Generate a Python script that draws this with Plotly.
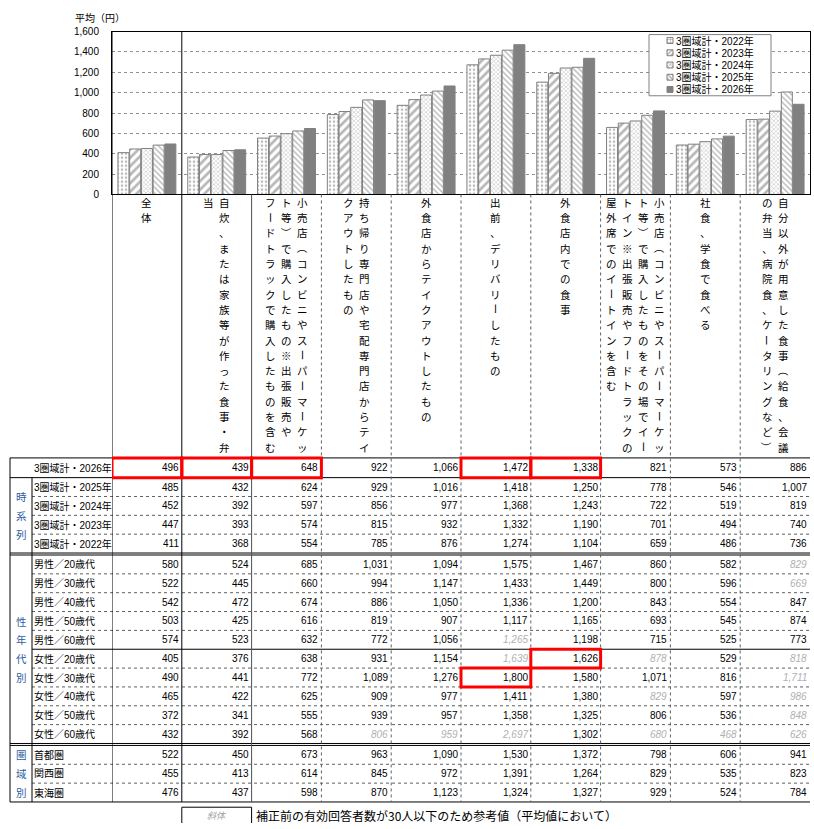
import plotly.graph_objects as go

W, H = 814, 829

# ---------------- data ----------------
categories = [
    "全体",
    "自炊、または家族等が作った食事・弁当",
    "小売店（コンビニやスーパーマーケット等）で購入したもの※出張販売やフードトラックで購入したものを含む",
    "持ち帰り専門店や宅配専門店からテイクアウトしたもの",
    "外食店からテイクアウトしたもの",
    "出前、デリバリーしたもの",
    "外食店内での食事",
    "小売店（コンビニやスーパーマーケット等）で購入したものをその場でイートイン※出張販売やフードトラックの屋外席でのイートインを含む",
    "社食、学食で食べる",
    "自分以外が用意した食事（給食、会議の弁当、病院食、ケータリングなど）",
]
# vertical label columns (right-most column first)
category_columns = [
    ["全体"],
    ["自炊、または家族等が作った食事・弁", "当"],
    ["小売店（コンビニやスーパーマーケッ", "ト等）で購入したもの※出張販売や", "フードトラックで購入したものを含む"],
    ["持ち帰り専門店や宅配専門店からテイ", "クアウトしたもの"],
    ["外食店からテイクアウトしたもの"],
    ["出前、デリバリーしたもの"],
    ["外食店内での食事"],
    ["小売店（コンビニやスーパーマーケッ", "ト等）で購入したものをその場でイー", "トイン※出張販売やフードトラックの", "屋外席でのイートインを含む"],
    ["社食、学食で食べる"],
    ["自分以外が用意した食事（給食、会議", "の弁当、病院食、ケータリングなど）"],
]

series_names = ["3圏域計・2022年", "3圏域計・2023年", "3圏域計・2024年", "3圏域計・2025年", "3圏域計・2026年"]
ts_2022 = [411, 368, 554, 785, 876, 1274, 1104, 659, 486, 736]
ts_2023 = [447, 393, 574, 815, 932, 1332, 1190, 701, 494, 740]
ts_2024 = [452, 392, 597, 856, 977, 1368, 1243, 722, 519, 819]
ts_2025 = [485, 432, 624, 929, 1016, 1418, 1250, 778, 546, 1007]
ts_2026 = [496, 439, 648, 922, 1066, 1472, 1338, 821, 573, 886]

m20 = [580, 524, 685, 1031, 1094, 1575, 1467, 860, 582, 829]
m30 = [522, 445, 660, 994, 1147, 1433, 1449, 800, 596, 669]
m40 = [542, 472, 674, 886, 1050, 1336, 1200, 843, 554, 847]
m50 = [503, 425, 616, 819, 907, 1117, 1165, 693, 545, 874]
m60 = [574, 523, 632, 772, 1056, 1265, 1198, 715, 525, 773]
f20 = [405, 376, 638, 931, 1154, 1639, 1626, 878, 529, 818]
f30 = [490, 441, 772, 1089, 1276, 1800, 1580, 1071, 816, 1711]
f40 = [465, 422, 625, 909, 977, 1411, 1380, 829, 597, 986]
f50 = [372, 341, 555, 939, 957, 1358, 1325, 806, 536, 848]
f60 = [432, 392, 568, 806, 959, 2697, 1302, 680, 468, 626]
shutoken = [522, 450, 673, 963, 1090, 1530, 1372, 798, 606, 941]
kansai = [455, 413, 614, 845, 972, 1391, 1264, 829, 535, 823]
tokai = [476, 437, 598, 870, 1123, 1324, 1327, 929, 524, 784]

row_labels = ["3圏域計・2026年", "3圏域計・2025年", "3圏域計・2024年", "3圏域計・2023年", "3圏域計・2022年",
              "男性／20歳代", "男性／30歳代", "男性／40歳代", "男性／50歳代", "男性／60歳代",
              "女性／20歳代", "女性／30歳代", "女性／40歳代", "女性／50歳代", "女性／60歳代",
              "首都圏", "関西圏", "東海圏"]
table_rows = [ts_2026, ts_2025, ts_2024, ts_2023, ts_2022,
              m20, m30, m40, m50, m60, f20, f30, f40, f50, f60,
              shutoken, kansai, tokai]
section_labels = ["時系列", "性年代別", "圏域別"]
section_rows = [(1, 4), (5, 14), (15, 17)]
italic_cells = [(5, 9), (6, 9), (9, 5), (10, 5), (10, 7), (10, 9), (11, 9), (12, 7), (12, 9),
                (13, 9), (14, 3), (14, 4), (14, 5), (14, 7), (14, 8), (14, 9)]
highlight_cells = [(0, 0), (0, 1), (0, 2), (0, 5), (0, 6), (10, 6), (11, 5)]
y_ticks = [0, 200, 400, 600, 800, 1000, 1200, 1400, 1600]
y_title = "平均（円）"
footer_key = "斜体"
footer_text = "補正前の有効回答者数が30人以下のため参考値（平均値において）"

# ---------------- styles / geometry ----------------
PLOT_L, PLOT_R, PLOT_T, PLOT_B = 112, 810, 27, 192
CJK = "Noto Sans CJK JP"
NUM = "Liberation Sans, Arial, Noto Sans CJK JP"
LAB = "Liberation Sans, Noto Sans CJK JP"
GREY = "#808080"
patterns = [
    dict(shape=".", size=4, solidity=0.3, fgcolor="#707070", bgcolor="white"),
    dict(shape="/", size=6, solidity=0.45, fgcolor="#707070", bgcolor="white"),
    dict(shape="x", size=3, solidity=0.35, fgcolor="#808080", bgcolor="white"),
    dict(shape="\\", size=4, solidity=0.35, fgcolor="#707070", bgcolor="white"),
    dict(shape="", size=4, solidity=0.3, fgcolor=GREY, bgcolor=GREY),
]
bar_colors = ["white", "white", "white", "white", GREY]

fig = go.Figure()
series_values = [ts_2022, ts_2023, ts_2024, ts_2025, ts_2026]
for name, vals, pat, col in zip(series_names, series_values, patterns, bar_colors):
    fig.add_trace(go.Bar(
        x=categories, y=vals, name=name, showlegend=False,
        marker=dict(color=col, line=dict(color=GREY, width=1), pattern=pat),
        xaxis="x", yaxis="y", hoverinfo="skip",
    ))

# legend (drawn manually for compact spacing) on the pixel overlay axes
LEG_L, LEG_R, LEG_T, LEG_B = 649, 771, 30, 92
leg_y = [36, 48.4, 60.8, 73.2, 85.6]
fig.add_trace(go.Bar(
    x=[LEG_L], base=[LEG_B], y=[LEG_T - LEG_B], width=[LEG_R - LEG_L], offset=0,
    marker=dict(color="white", line=dict(color=GREY, width=1)),
    xaxis="x2", yaxis="y2", showlegend=False, hoverinfo="skip"))
fig.add_trace(go.Bar(
    x=[667] * 5, base=[v + 3 for v in leg_y], y=[-6] * 5, width=[6] * 5, offset=0,
    marker=dict(color=bar_colors, line=dict(color=GREY, width=1),
                pattern=dict(shape=[p["shape"] for p in patterns], size=3, solidity=0.4,
                             fgcolor=[p["fgcolor"] for p in patterns],
                             bgcolor=[p["bgcolor"] for p in patterns])),
    xaxis="x2", yaxis="y2", showlegend=False, hoverinfo="skip"))

annotations = []
shapes = []


def txt(x, y, s, size=10, family=CJK, color="black", xanchor="center", xref="x2", xshift=0,
        angle=0, italic=False):
    annotations.append(dict(
        x=x, y=y, xref=xref, yref="y2", text=(f"<i>{s}</i>" if italic else s), showarrow=False,
        xanchor=xanchor, yanchor="middle", xshift=xshift, textangle=angle,
        font=dict(size=size, family=family, color=color), borderpad=0))


def line(x0, y0, x1, y1, color="black", width=1, dash="solid", xref="x2"):
    shapes.append(dict(type="line", x0=x0, x1=x1, y0=y0, y1=y1, xref=xref, yref="y2",
                       line=dict(color=color, width=width, dash=dash)))


for s, yy in zip(series_names, leg_y):
    txt(675, yy, s, size=10, family=LAB, xanchor="left")

# y title
txt(100, 13, y_title, size=10)

# vertical category labels
CHAR_Y0, CHAR_DY, COL_DX = 200, 15.5, 16
rotate_chars = set("ー（）")
for i, cols in enumerate(category_columns):
    n = len(cols)
    for j, colstr in enumerate(cols):
        off = (n - 1) / 2 * COL_DX - j * COL_DX
        for k, ch in enumerate(colstr):
            txt(i, CHAR_Y0 + k * CHAR_DY, ch, size=10.5, xref="x", xshift=off,
                angle=90 if ch in rotate_chars else 0)

# table row bounds
bounds = []
yc = 459.0
for r in range(len(row_labels)):
    h = 20.0 if r == 0 else 19.1
    bounds.append((yc, yc + h))
    yc += h
    if r in (4, 14):
        yc += 2.0
TABLE_BOTTOM = bounds[-1][1]

# horizontal lines
for r, (top, bot) in enumerate(bounds):
    if r in (0, 1):
        line(10, top, PLOT_R, top)
    elif r in (5, 15):
        line(10, bounds[r - 1][1], PLOT_R, bounds[r - 1][1])
        line(10, top, PLOT_R, top)
    elif r == 10:
        line(32, top, PLOT_R, top)
    else:
        line(32, top, PLOT_R, top, color="#606060", dash="dot")
line(10, TABLE_BOTTOM, PLOT_R, TABLE_BOTTOM)

# vertical lines
line(10, 459, 10, TABLE_BOTTOM)
line(32, bounds[1][0], 32, TABLE_BOTTOM)
for i in range(len(categories) + 1):
    xv = i - 0.5
    if i in (0, 1):
        line(xv, PLOT_T, xv, TABLE_BOTTOM, xref="x")
    elif i == 2:
        line(xv, PLOT_B, xv, TABLE_BOTTOM, color="#505050", xref="x")
    elif i < len(categories):
        line(xv, PLOT_B, xv, TABLE_BOTTOM, color="#606060", dash="dot", xref="x")

# row labels and values
for r, (lab, vals) in enumerate(zip(row_labels, table_rows)):
    top, bot = bounds[r]
    ym = (top + bot) / 2
    txt(33, ym, lab, size=10, family=LAB, xanchor="left")
    for c, v in enumerate(vals):
        it = (r, c) in italic_cells
        txt(c + 0.5, ym, f"{v:,}", size=10, family=NUM, xanchor="right", xref="x", xshift=-2,
            color="#B0B0B0" if it else "black", italic=it)

# section labels
for lab, (r0, r1) in zip(section_labels, section_rows):
    center = (bounds[r0][0] + bounds[r1][1]) / 2
    n = len(lab)
    for k, ch in enumerate(lab):
        txt(21, center + (k - (n - 1) / 2) * 19, ch, size=10.5, color="#2E5C9E")

# highlight boxes
for r, c in highlight_cells:
    top, bot = bounds[r]
    shapes.append(dict(type="rect", xref="x", yref="y2", x0=c - 0.5, x1=c + 0.5, y0=top, y1=bot,
                       line=dict(color="#FF0000", width=3)))

# footer
shapes.append(dict(type="rect", xref="x", yref="y2", x0=0.5, x1=1.5, y0=813, y1=831,
                   line=dict(color="black", width=1)))
txt(1, 821, footer_key, size=9, color="#A0A0A0", xref="x", italic=True)
txt(255, 821, footer_text, size=12, xanchor="left")

fig.update_layout(
    width=W, height=H, margin=dict(l=0, r=0, t=0, b=0),
    paper_bgcolor="white", plot_bgcolor="rgba(0,0,0,0)",
    barmode="group", bargap=0.16, bargroupgap=0.06,
    showlegend=False,
    xaxis=dict(domain=[PLOT_L / W, PLOT_R / W], range=[-0.5, len(categories) - 0.5],
               showticklabels=False, ticks="", showgrid=False, showline=True,
               linecolor="black", linewidth=1, mirror=True, anchor="y", fixedrange=True),
    yaxis=dict(domain=[1 - PLOT_B / H, 1 - PLOT_T / H], range=[0, 1600], tickvals=y_ticks,
               tickformat=",", showgrid=True, gridcolor="#909090", griddash="dot", gridwidth=1,
               showline=True, linecolor="black", linewidth=1, mirror=True, ticks="",
               ticklabelstandoff=10, zeroline=False,
               tickfont=dict(size=10, family=NUM, color="black"), anchor="x", fixedrange=True),
    xaxis2=dict(domain=[0, 1], range=[0, W], visible=False, anchor="y2", fixedrange=True),
    yaxis2=dict(domain=[0, 1], range=[H, 0], visible=False, anchor="x2", fixedrange=True),
    annotations=annotations, shapes=shapes,
)

fig.write_html("out.html")
